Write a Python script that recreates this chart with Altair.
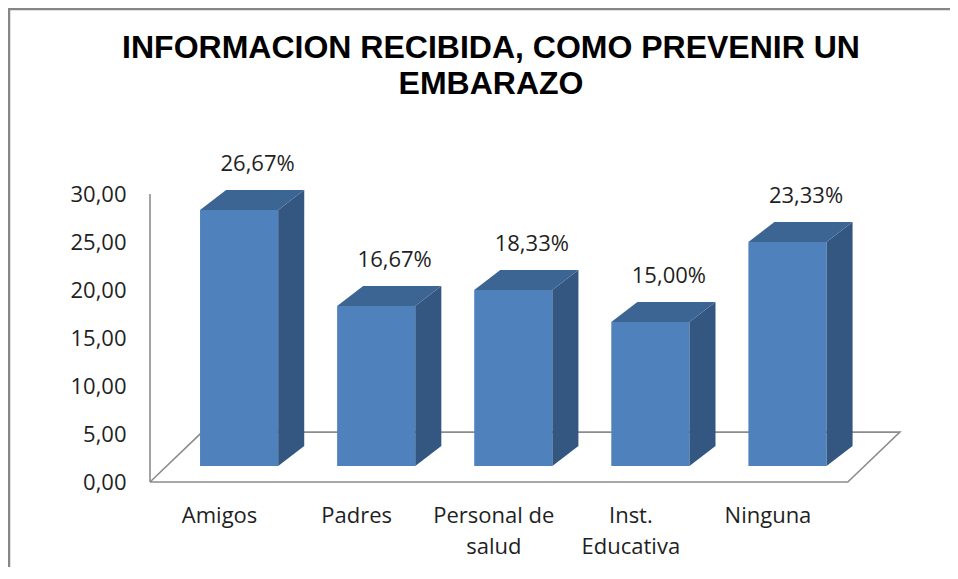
import altair as alt
import pandas as pd

# ---- data ----
categories = ["Amigos", "Padres", "Personal de salud", "Inst. Educativa", "Ninguna"]
label_lines = ["Amigos", "Padres", "Personal de|salud", "Inst.|Educativa", "Ninguna"]
values = [26.67, 16.67, 18.33, 15.00, 23.33]
y_ticks = [0, 5, 10, 15, 20, 25, 30]
title_lines = ["INFORMACION RECIBIDA, COMO PREVENIR UN", "EMBARAZO"]

# ---- 3D pseudo-perspective geometry (scale units) ----
HALF_W = 0.285   # half bar width (category units)
BASE = 1.67      # bar front base height above floor front edge (value units)
DX = 0.19        # bar depth, horizontal (category units)
DZ = 2.08        # bar depth, vertical (value units)
FLOOR_X0, FLOOR_X1 = -0.65, 4.44
FLOOR_DX, FLOOR_DZ = 0.38, 5.2
LABEL_SHIFT = -0.146
X_DOMAIN = [-0.65, 4.85]
Y_DOMAIN = [0, 35]
W, H = 754, 336

FRONT = "#4F81BD"
SIDE = "#335781"
TOP = "#3D6593"

idx = list(range(len(categories)))

front_df = pd.DataFrame({
    "cat": categories,
    "x": [i - HALF_W for i in idx],
    "x2": [i + HALF_W for i in idx],
    "y": [BASE] * len(idx),
    "y2": [BASE + v for v in values],
})

side_rows = []
top_rows = []
for i, c, v in zip(idx, categories, values):
    side_rows.append({"cat": c, "x": i + HALF_W, "y": BASE, "y2": BASE + v})
    side_rows.append({"cat": c, "x": i + HALF_W + DX, "y": BASE + DZ, "y2": BASE + v + DZ})
    top_rows.append({"cat": c, "y": BASE + v, "x": i - HALF_W, "x2": i + HALF_W})
    top_rows.append({"cat": c, "y": BASE + v + DZ, "x": i - HALF_W + DX, "x2": i + HALF_W + DX})
side_df = pd.DataFrame(side_rows)
top_df = pd.DataFrame(top_rows)

label_df = pd.DataFrame({
    "cat": categories,
    "x": [i + DX / 2 + 0.04 for i in idx],
    "y": [BASE + v + DZ + 2.75 for v in values],
    "txt": [f"{v:.2f}".replace(".", ",") + "%" for v in values],
})

floor_df = pd.DataFrame({
    "o": [0, 1, 2, 3, 4],
    "x": [FLOOR_X0, FLOOR_X1, FLOOR_X1 + FLOOR_DX, FLOOR_X0 + FLOOR_DX, FLOOR_X0],
    "y": [0, 0, FLOOR_DZ, FLOOR_DZ, 0],
})
axis_df = pd.DataFrame({"x": [FLOOR_X0], "y": [0], "y2": [max(y_ticks)]})

xs = alt.Scale(domain=X_DOMAIN, nice=False, zero=False)
ys = alt.Scale(domain=Y_DOMAIN, nice=False, zero=False)

label_array = "[" + ",".join(f"'{t}'" for t in label_lines) + "]"

TXT_FONT = "Open Sans"
TXT_SIZE = 22
TXT_COLOR = "#1F1F1F"

x_axis = alt.Axis(
    values=[i + LABEL_SHIFT for i in idx],
    labelExpr=f"split({label_array}[round(datum.value - ({LABEL_SHIFT}))], '|')",
    domain=False, ticks=False, grid=False, title=None,
    labelPadding=23, labelFont=TXT_FONT, labelFontSize=TXT_SIZE, labelColor=TXT_COLOR,
    labelLineHeight=31, labelAngle=0, labelAlign="center", labelBaseline="top",
)
y_axis = alt.Axis(
    values=y_ticks,
    labelExpr="replace(format(datum.value, '.2f'), '.', ',')",
    domain=False, ticks=False, grid=False, title=None,
    labelPadding=24, labelFont=TXT_FONT, labelFontSize=TXT_SIZE, labelColor=TXT_COLOR,
)

border = alt.Chart(pd.DataFrame({"b": [0]})).mark_rect(
    fill="transparent", stroke="#878787", strokeWidth=2.5
).encode(
    x=alt.value(-141), x2=alt.value(W + 120), y=alt.value(-137), y2=alt.value(H + 120)
)

floor = alt.Chart(floor_df).mark_line(color="#8C8C8C", strokeWidth=1.6).encode(
    x=alt.X("x:Q", scale=xs, axis=x_axis),
    y=alt.Y("y:Q", scale=ys, axis=y_axis),
    order="o:O",
)

yline = alt.Chart(axis_df).mark_rule(color="#8C8C8C", strokeWidth=1.6).encode(
    x=alt.X("x:Q", scale=xs), y=alt.Y("y:Q", scale=ys), y2="y2:Q"
)

front = alt.Chart(front_df).mark_rect(color=FRONT).encode(
    x=alt.X("x:Q", scale=xs), x2="x2:Q",
    y=alt.Y("y:Q", scale=ys), y2="y2:Q",
)

side = alt.Chart(side_df).mark_area(color=SIDE, orient="vertical").encode(
    x=alt.X("x:Q", scale=xs), y=alt.Y("y:Q", scale=ys), y2="y2:Q", detail="cat:N"
)

top = alt.Chart(top_df).mark_area(color=TOP, orient="horizontal").encode(
    y=alt.Y("y:Q", scale=ys), x=alt.X("x:Q", scale=xs), x2="x2:Q", detail="cat:N"
)

labels = alt.Chart(label_df).mark_text(
    font=TXT_FONT, fontSize=TXT_SIZE, color=TXT_COLOR, baseline="middle", align="center"
).encode(
    x=alt.X("x:Q", scale=xs), y=alt.Y("y:Q", scale=ys), text="txt:N"
)

chart = alt.layer(border, floor, yline, front, side, top, labels).properties(
    width=W, height=H,
    title=alt.TitleParams(
        text=title_lines, font="Liberation Sans", fontSize=32, fontWeight="bold",
        color="#000000", anchor="middle", frame="group", dx=-36, offset=-93, lineHeight=36,
    ),
    autosize=alt.AutoSizeParams(type="none"),
    padding={"left": 142, "top": 138, "right": 46, "bottom": 85},
).configure_view(stroke=None)

chart.save("out.html", embed_options={"renderer": "svg", "actions": False})
